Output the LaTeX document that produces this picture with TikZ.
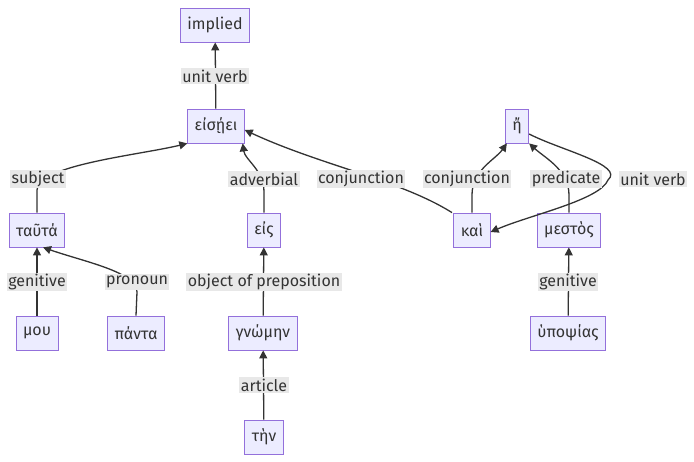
\documentclass[tikz,border=0pt]{standalone}
\usepackage{fontspec}
\setmainfont{Fira Sans}
\usetikzlibrary{arrows.meta}
\definecolor{nfill}{HTML}{ECECFF}
\definecolor{nline}{HTML}{9370DB}
\definecolor{edge}{HTML}{333333}
\definecolor{lbg}{HTML}{E8E8E8}
\tikzset{
  box/.style={draw=nline,fill=nfill,line width=0.8pt,minimum height=34pt,inner xsep=7pt,font=\fontsize{16}{18}\selectfont,text=edge},
  lab/.style={fill=lbg,inner sep=1.5pt,font=\fontsize{16}{18}\selectfont,text=edge},
  arr/.style={draw=edge,line width=1.3pt,-{Triangle[length=8pt,width=8pt]}}
}
\begin{document}
\begin{tikzpicture}[x=1pt,y=-1pt]
\useasboundingbox (0,0) rectangle (694,462);
\node[box] (implied) at (215,25) {implied};
\node[box] (eisei) at (216,126) {εἰσῄει};
\node[box] (e) at (517,126) {ἤ};
\node[box] (tauta) at (37,230) {ταῦτά};
\node[box] (eis) at (264,230) {εἰς};
\node[box] (kai) at (472,230) {καὶ};
\node[box] (mestos) at (569,230) {μεστὸς};
\node[box] (mou) at (37,333) {μου};
\node[box] (panta) at (136,333) {πάντα};
\node[box] (gnomen) at (263,333) {γνώμην};
\node[box] (hypo) at (568,333) {ὑποψίας};
\node[box] (ten) at (264,437) {τὴν};
\coordinate (turn) at (608,180);
% edges
\draw[arr] (eisei) -- (implied);
\draw[arr] (tauta.north) -- (37,190) .. controls (37,165) and (140,155) .. (eisei.south west);
\draw[arr] (eis.north) -- (264,192) .. controls (264,170) and (245,160) .. ([xshift=-2pt]eisei.south east);
\draw[arr] ([xshift=-20pt]kai.north) .. controls (400,180) and (320,165) .. ([yshift=-4pt]eisei.east);
\draw[arr] (kai.north) -- (472,195) .. controls (472,170) and (495,160) .. ([xshift=2pt]e.south west);
\draw[arr] (mestos.north) -- (569,195) .. controls (569,170) and (545,158) .. (e.south east);
\draw[arr] ([yshift=-8pt]e.east) .. controls (560,150) and (625,165) .. (turn) .. controls (600,200) and (530,215) .. ([yshift=-2pt]kai.east);
\draw[arr] (mou) -- (tauta);
\draw[arr] (panta.north) -- (137,292) .. controls (137,272) and (85,262) .. ([xshift=6pt]tauta.south);
\draw[arr] (gnomen) -- (eis);
\draw[arr] (ten) -- (gnomen);
\draw[arr] (hypo) -- (mestos);
% labels
\node[lab] (l1) at (215,76) {unit verb};
\node[lab] (l2) at (38,179) {subject};
\node[lab] (l3) at (264,179) {adverbial};
\node[lab] (l4) at (361,179) {conjunction};
\node[lab] (l5) at (467,179) {conjunction};
\node[lab] (l6) at (566,179) {predicate};
\node[lab] (l7) at (653,179) {unit verb};
\node[lab] (l8) at (37,282) {genitive};
\node[lab] (l9) at (137,282) {pronoun};
\node[lab] (l10) at (264,282) {object of preposition};
\node[lab] (l11) at (568,282) {genitive};
\node[lab] (l12) at (264,385) {article};
\end{tikzpicture}
\end{document}
